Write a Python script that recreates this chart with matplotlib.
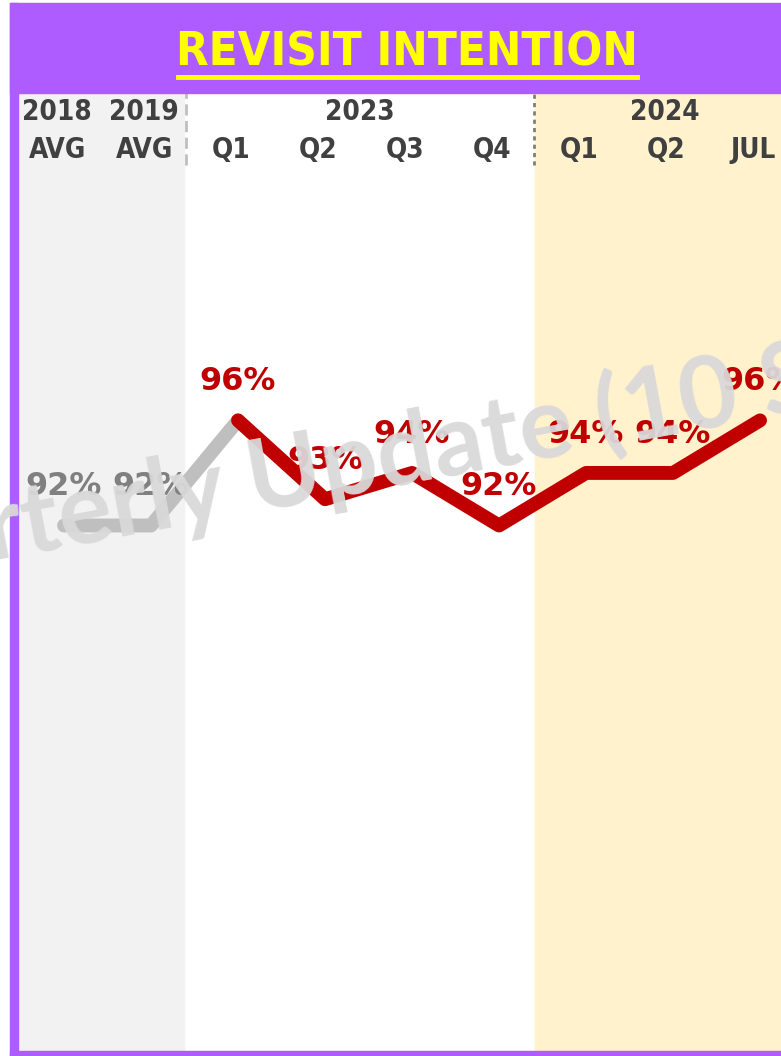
import matplotlib.pyplot as plt
from matplotlib.patches import Rectangle
from matplotlib.lines import Line2D

# data
col_years = ['2018', '2019', '', '', '', '', '', '', '']
periods = ['AVG', 'AVG', 'Q1', 'Q2', 'Q3', 'Q4', 'Q1', 'Q2', 'JUL']
groups = ['2023', '2024']
group_cols = [[2, 3, 4, 5], [6, 7, 8]]
values = [92, 92, 96, 93, 94, 92, 94, 94, 96]
n_hist = 2  # 2018/2019 averages drawn in grey

W, H = 781, 1056
fig = plt.figure(figsize=(W / 100, H / 100), dpi=100)
fig.patch.set_facecolor('white')

purple = '#AE5CFF'
red = '#C00000'
grey_line = '#BFBFBF'
dark = '#404040'
head_font = dict(family='DejaVu Sans', fontstretch='condensed', fontweight='bold')


def fx(px):
    return px / W


def fy(py):
    return 1 - py / H


# frame and header band
fig.add_artist(Rectangle((fx(10), fy(1056)), fx(8), fy(3) - fy(1056),
                         transform=fig.transFigure, color=purple, zorder=5))
fig.add_artist(Rectangle((fx(10), fy(1056)), 1, fy(1051) - fy(1056),
                         transform=fig.transFigure, color=purple, zorder=5))
fig.add_artist(Rectangle((fx(10), fy(93)), 1, fy(3) - fy(93),
                         transform=fig.transFigure, color=purple, zorder=5))
fig.text(fx(407), fy(53), 'REVISIT INTENTION', color='#FFFF00', fontsize=34,
         ha='center', va='center', zorder=6, **head_font)
fig.add_artist(Line2D([fx(178), fx(637)], [fy(77), fy(77)], transform=fig.transFigure,
                      color='#FFFF00', lw=3.5, zorder=6))

ax = fig.add_axes([fx(18), fy(1051), fx(781) - fx(18), fy(93) - fy(1051)])
x = list(range(len(values)))
ax.set_xlim(-0.529, 8.241)
ax.set_ylim(72.0, 108.46)
ax.axis('off')

ax.axvspan(-0.529, 1.38, color='#F2F2F2', zorder=0)
ax.axvspan(5.41, 8.241, color='#FFF2CC', zorder=0)

# header separators
xt = ax.get_xaxis_transform()
ax.plot([1.40, 1.40], [0.925, 1.0], transform=xt,
        color='#BFBFBF', lw=2, ls=(0, (4, 2)), zorder=2)
ax.plot([5.40, 5.40], [0.925, 1.0], transform=xt,
        color='#7F7F7F', lw=2, ls=(0, (1.5, 1.5)), zorder=2)

# column headings
for i, (yr, p) in enumerate(zip(col_years, periods)):
    ax.text(i - 0.08, 0.980, yr, transform=xt, ha='center', va='center',
            fontsize=20, color=dark, **head_font)
    ax.text(i - 0.08, 0.940, p, transform=xt, ha='center', va='center',
            fontsize=20, color=dark, **head_font)
for g, cols in zip(groups, group_cols):
    ax.text(sum(cols) / len(cols) - 0.1, 0.980, g, transform=xt, ha='center',
            va='center', fontsize=20, color=dark, **head_font)

# lines
ax.plot(x[:n_hist + 1], values[:n_hist + 1], color=grey_line, lw=10,
        solid_joinstyle='round', solid_capstyle='round', zorder=3)
ax.plot(x[n_hist:], values[n_hist:], color=red, lw=10,
        solid_joinstyle='round', solid_capstyle='round', zorder=4)

for i, v in enumerate(values):
    c = '#808080' if i < n_hist else red
    ax.annotate(f'{v}%', (i, v), xytext=(0, 28), textcoords='offset points',
                ha='center', va='center', fontsize=23, fontweight='bold', color=c,
                zorder=5)

# watermark
fig.text(fx(430), fy(448), 'Quarterly Update (10 States)', fontsize=72,
         family=['Lato', 'DejaVu Sans'], fontweight='bold', color='#D9D9D9',
         alpha=0.95, rotation=10.5, ha='center', va='center',
         rotation_mode='anchor', zorder=7)

fig.savefig('out.png', dpi=100)
